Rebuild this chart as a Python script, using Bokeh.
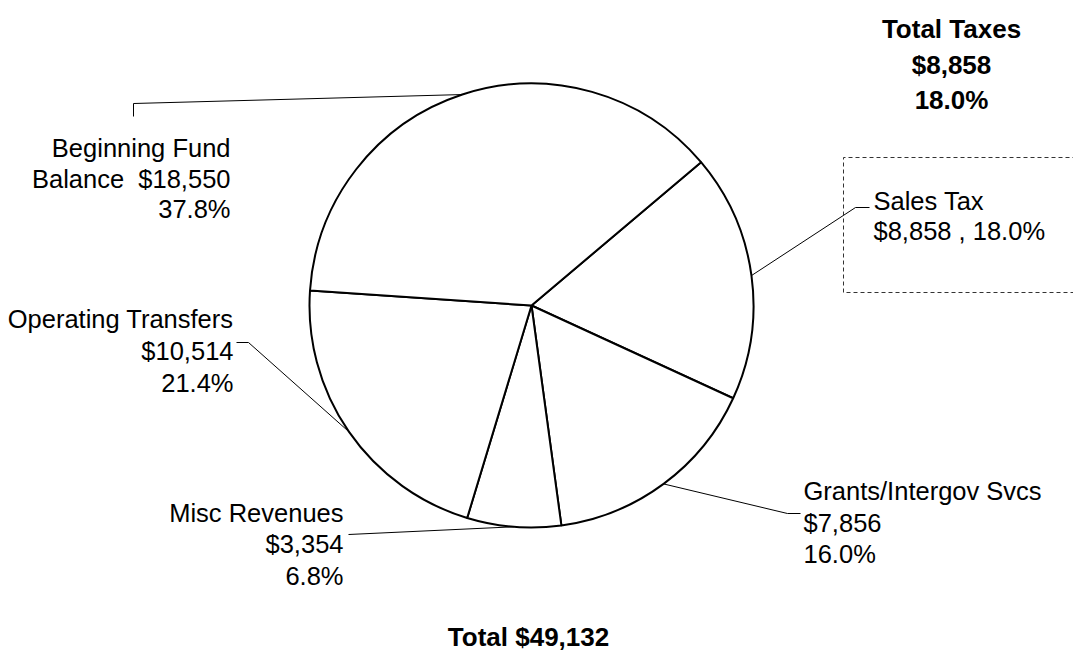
import math
from bokeh.plotting import figure
from bokeh.models import Range1d, ColumnDataSource
from bokeh.core.properties import value
from bokeh.embed import file_html
from bokeh.resources import INLINE

# ---------------- data ----------------
categories = ["Sales Tax", "Grants/Intergov Svcs", "Misc Revenues",
              "Operating Transfers", "Beginning Fund Balance"]
amounts = [8858, 7856, 3354, 10514, 18550]
tax_title = "Total Taxes"
tax_categories = ["Sales Tax"]

total = sum(amounts)
pcts = [a / total * 100 for a in amounts]
money = ["${:,}".format(a) for a in amounts]
pct_txt = ["{:.1f}%".format(p) for p in pcts]
tax_total = sum(a for c, a in zip(categories, amounts) if c in tax_categories)

# ---------------- layout ----------------
W, H = 1073, 654
FONT = value("Liberation Sans")
FS = "25.5px"
FSB = "26px"

p = figure(width=W, height=H, output_backend="svg", toolbar_location=None,
           x_range=Range1d(0, W), y_range=Range1d(-H, 0),
           min_border=0, min_border_left=0, min_border_right=0,
           min_border_top=0, min_border_bottom=0)
p.axis.visible = False
p.xgrid.visible = False
p.ygrid.visible = False
p.outline_line_color = None
p.background_fill_color = "white"
p.border_fill_color = "white"

def Y(sy):
    return -sy

cx, cy, R = 531, Y(305), 222
start = math.radians(40.2)

# wedge angles, clockwise from start
starts, ends, mids = [], [], []
cum = 0.0
for a in amounts:
    a0 = start - cum / total * 2 * math.pi
    cum += a
    a1 = start - cum / total * 2 * math.pi
    starts.append(a1)
    ends.append(a0)
    mids.append((a0 + a1) / 2)

src = ColumnDataSource(dict(x=[cx] * len(amounts), y=[cy] * len(amounts),
                            start=starts, end=ends, cat=categories))
p.wedge(x="x", y="y", radius=R, start_angle="start", end_angle="end",
        direction="anticlock", source=src, fill_color="white",
        line_color="black", line_width=2)

def edge(i):
    return cx + R * math.cos(mids[i]), cy + R * math.sin(mids[i])

# leader lines
lw = 1
ex, ey = edge(0)
p.line([ex, 855, 869], [ey, Y(207), Y(207)], line_color="black", line_width=lw)
ex, ey = edge(1)
p.line([ex, 787, 800], [ey, Y(513), Y(513)], line_color="black", line_width=lw)
ex, ey = edge(2)
p.line([348, ex], [Y(534), ey], line_color="black", line_width=lw)
ex, ey = edge(3)
p.line([236, 248, ex], [Y(342), Y(342), ey], line_color="black", line_width=lw)
ex, ey = edge(4)
p.line([133, 133, ex], [Y(116), Y(103), ey], line_color="black", line_width=lw)

# dashed box around taxes
p.line([1090, 843, 843, 1090], [Y(157), Y(157), Y(292), Y(292)],
       line_color="#333333", line_width=1, line_dash="4 3")

def txt(x, ys, lines, align, bold=False):
    p.text(x=[x] * len(lines), y=[Y(s) for s in ys], text=lines,
           text_align=align, text_baseline="alphabetic", text_font=FONT,
           text_font_size=FSB if bold else FS, text_color="black",
           text_font_style="bold" if bold else "normal")

NB = "\u00a0"
txt(873, [200, 230], [categories[0], money[0] + " , " + pct_txt[0]], "left")
txt(803, [490, 522, 553], [categories[1], money[1], pct_txt[1]], "left")
txt(343, [512, 543, 575], [categories[2], money[2], pct_txt[2]], "right")
txt(233, [318, 350, 382], [categories[3], money[3], pct_txt[3]], "right")
bfb = categories[4].split(" ")
txt(230, [147, 178, 208],
    [" ".join(bfb[:2]), bfb[2] + NB + " " + money[4], pct_txt[4]], "right")

txt(951, [28, 64, 99],
    [tax_title, "${:,}".format(tax_total),
     "{:.1f}%".format(tax_total / total * 100)], "center", bold=True)

txt(528, [636], ["Total ${:,}".format(total)], "center", bold=True)

open("out.html", "w").write(file_html(p, INLINE))
